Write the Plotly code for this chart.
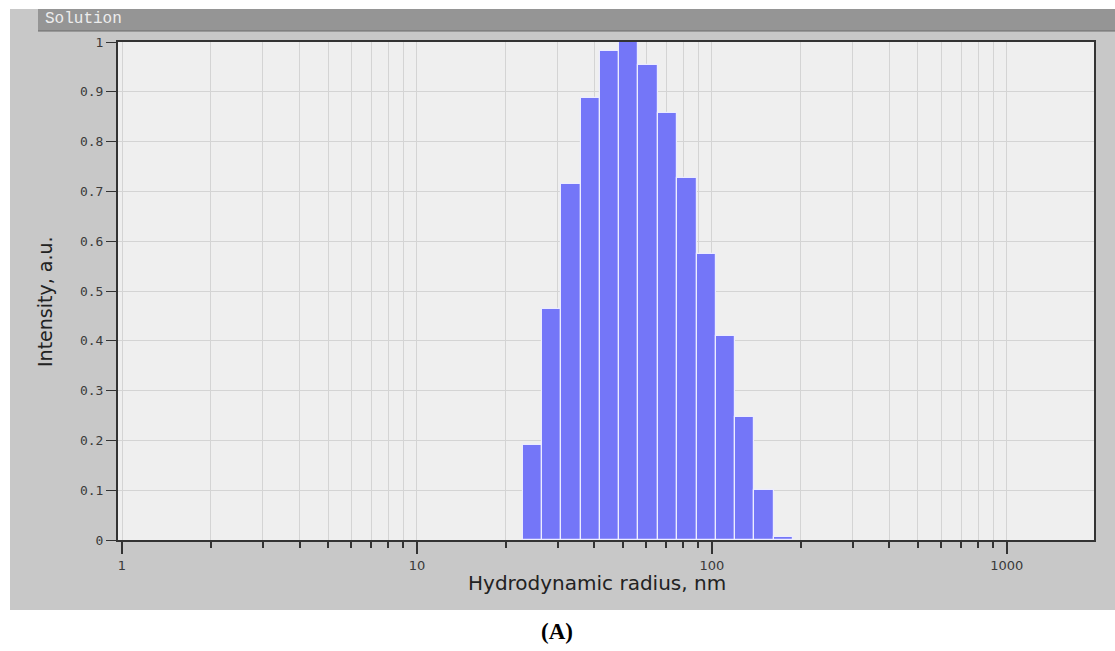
import numpy as np
import plotly.graph_objects as go

# ---- data ----
radius_nm = [24.6, 28.6, 33.3, 38.7, 45.0, 52.3, 60.8, 70.8, 82.3, 95.7, 111.3, 129.4, 150.5, 175.0]
intensity = [0.19, 0.464, 0.714, 0.888, 0.981, 1.0, 0.953, 0.858, 0.727, 0.574, 0.41, 0.248, 0.10, 0.007]
x_tick_vals = [1, 10, 100, 1000]
x_tick_text = ["1", "10", "100", "1000"]
y_tick_vals = [0, 0.1, 0.2, 0.3, 0.4, 0.5, 0.6, 0.7, 0.8, 0.9, 1]
y_tick_text = ["0", "0.1", "0.2", "0.3", "0.4", "0.5", "0.6", "0.7", "0.8", "0.9", "1"]
x_minor_vals = [m * d for d in (1, 10, 100, 1000) for m in range(2, 10)]

# log-spaced bin edges from the bin centres
r = np.array(radius_nm)
ratio = np.sqrt(r[1:] / r[:-1])
left = np.concatenate([[r[0] / ratio[0]], r[1:] / ratio])
right = np.concatenate([r[:-1] * ratio, [r[-1] * ratio[-1]]])

W, H = 1115, 651
L, R, T, B = 118, 21, 42, 111
pw, ph = W - L - R, H - T - B

def px(x):
    return (x - L) / pw

def py(y):
    return (H - B - y) / ph

fig = go.Figure()
fig.add_trace(go.Bar(
    x=radius_nm, y=intensity,
    offset=list(left - r), width=list(right - left),
    marker=dict(color="#7476F8", line=dict(color="#ECECFF", width=1.2)),
    showlegend=False,
))

fig.update_layout(
    width=W, height=H,
    margin=dict(l=L, r=R, t=T, b=B, pad=0),
    paper_bgcolor="white",
    plot_bgcolor="#EFEFEF",
    bargap=0,
    xaxis=dict(
        type="log",
        range=[-0.01356, 3.296],
        tickvals=x_tick_vals, ticktext=x_tick_text,
        ticks="outside", ticklen=12, tickwidth=1.5, tickcolor="#333333",
        tickfont=dict(family="DejaVu Sans", size=13, color="#3A3A3A"),
        showgrid=True, gridcolor="#D4D4D4", gridwidth=1,
        showline=True, linecolor="#333333", linewidth=2, mirror=True,
        zeroline=False,
        minor=dict(tickvals=x_minor_vals, ticks="outside", ticklen=6, tickwidth=1.5,
                   tickcolor="#333333", showgrid=True, gridcolor="#D4D4D4", gridwidth=1),
    ),
    yaxis=dict(
        range=[0, 1],
        tickvals=y_tick_vals, ticktext=y_tick_text,
        ticks="outside", ticklen=10, tickwidth=1.2, tickcolor="#333333",
        tickfont=dict(family="DejaVu Sans Mono", size=13, color="#3A3A3A"),
        showgrid=True, gridcolor="#D4D4D4", gridwidth=1,
        showline=True, linecolor="#333333", linewidth=2, mirror=True,
        zeroline=False,
    ),
    shapes=[
        dict(type="rect", xref="paper", yref="paper", layer="below",
             x0=px(10), x1=px(1115), y0=py(610), y1=py(9),
             fillcolor="#C8C8C8", line=dict(width=0)),
        dict(type="rect", xref="paper", yref="paper", layer="below",
             x0=0, x1=1, y0=0, y1=1,
             fillcolor="#EFEFEF", line=dict(width=0)),
        dict(type="rect", xref="paper", yref="paper", layer="below",
             x0=px(38), x1=px(1115), y0=py(31), y1=py(9),
             fillcolor="#959595", line=dict(width=0)),
        dict(type="line", xref="paper", yref="paper", layer="below",
             x0=px(38), x1=px(1115), y0=py(31), y1=py(31),
             line=dict(color="#6A6A6A", width=1)),
    ],
    annotations=[
        dict(text="Solution", xref="paper", yref="paper", x=px(43), y=py(19),
             xanchor="left", yanchor="middle", showarrow=False,
             font=dict(family="Liberation Mono", size=16, color="#EDEDED")),
        dict(text="Intensity, a.u.", xref="paper", yref="paper", x=px(45), y=py(302),
             xanchor="center", yanchor="middle", textangle=-90, showarrow=False,
             font=dict(family="DejaVu Sans", size=19, color="#222222")),
        dict(text="Hydrodynamic radius, nm", xref="paper", yref="paper", x=px(597), y=py(583),
             xanchor="center", yanchor="middle", showarrow=False,
             font=dict(family="DejaVu Sans", size=20, color="#222222")),
        dict(text="<b>(A)</b>", xref="paper", yref="paper", x=px(557), y=py(631),
             xanchor="center", yanchor="middle", showarrow=False,
             font=dict(family="Liberation Serif", size=23, color="#000000")),
    ],
)

fig.write_html("out.html")
